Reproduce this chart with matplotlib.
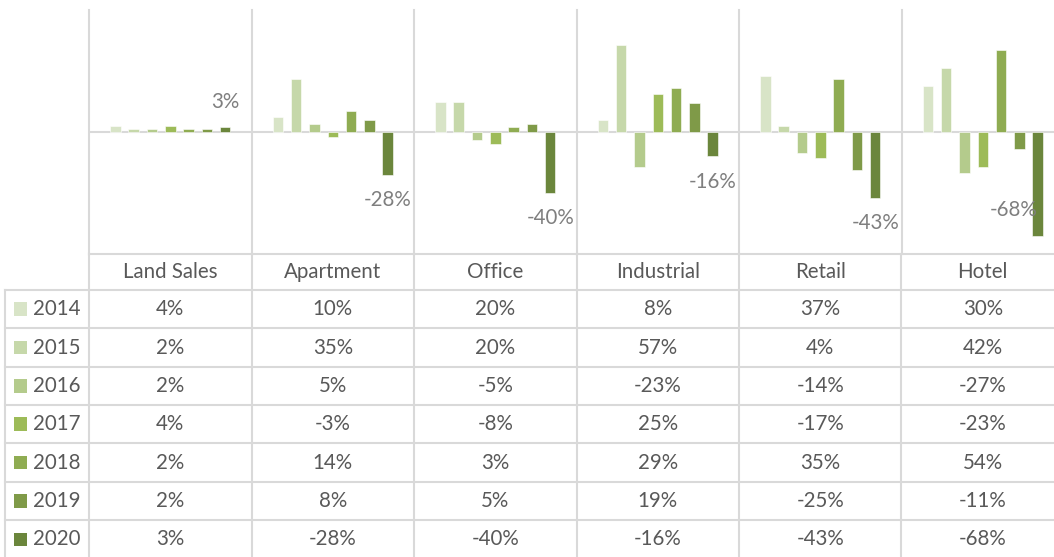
import matplotlib.pyplot as plt
from matplotlib.patches import Rectangle

categories = ["Land Sales", "Apartment", "Office", "Industrial", "Retail", "Hotel"]
years = ["2014", "2015", "2016", "2017", "2018", "2019", "2020"]
values = {
    "2014": [4, 10, 20, 8, 37, 30],
    "2015": [2, 35, 20, 57, 4, 42],
    "2016": [2, 5, -5, -23, -14, -27],
    "2017": [4, -3, -8, 25, -17, -23],
    "2018": [2, 14, 3, 29, 35, 54],
    "2019": [2, 8, 5, 19, -25, -11],
    "2020": [3, -28, -40, -16, -43, -68],
}
labelled_year = "2020"

colors = ["#d8e4c7", "#c6d8aa", "#b4cb8c", "#9dbb58", "#8fac52", "#7f9a48", "#6b863c"]
grid_color = "#d9d9d9"
text_color = "#595959"
label_color = "#7f7f7f"
font = ["Lato", "DejaVu Sans"]
fsize = 14.8

W, H = 1054, 557
CAT_PX = 162.5


def px_box(left, top, right, bottom):
    return [left / W, 1 - bottom / H, (right - left) / W, (bottom - top) / H]


def main() -> None:
    plt.rcParams["font.family"] = font
    fig = plt.figure(figsize=(W / 100, H / 100), dpi=100)

    # chart area
    ax = fig.add_axes(px_box(89, 10, 89 + 6 * CAT_PX, 254))
    ax.set_xlim(-0.5, 5.5)
    ax.set_ylim(-80, 80)
    ax.axis("off")
    for k in range(6):
        ax.plot([k - 0.5, k - 0.5], [-80, 80], color=grid_color, lw=1.5,
                clip_on=False, zorder=0)
    ax.axhline(0, color=grid_color, lw=1.5, zorder=1)

    step = 18.3 / CAT_PX
    width = 10.5 / CAT_PX
    n = len(years)
    for i, (year, color) in enumerate(zip(years, colors)):
        xs = [c + (i - (n - 1) / 2) * step for c in range(len(categories))]
        ax.bar(xs, values[year], width=width, color=color,
               edgecolor="white", linewidth=0.4, zorder=2)
        if year == labelled_year:
            for x, v in zip(xs, values[year]):
                sign = 1 if v >= 0 else -1
                y = v + sign * 16.5
                if abs(y) > 72:
                    y = v - sign * 17
                x = min(x, 5.5 - 0.31)
                ax.text(x, y, f"{v}%", ha="center", va="center",
                        color=label_color, fontsize=fsize, zorder=3)

    # data table
    left_px = 5
    x0 = -0.5 - (89 - left_px) / CAT_PX
    head_h = 36 / 38.35
    tab = fig.add_axes(px_box(left_px, 254, 89 + 6 * CAT_PX, 254 + 38.35 * (head_h + n)))
    tab.set_xlim(x0, 5.5)
    tab.set_ylim(head_h + n, 0)
    tab.axis("off")

    lw = 1.5
    tab.plot([-0.5, 5.5], [0, 0], color=grid_color, lw=lw, clip_on=False)
    for r in range(n + 1):
        tab.plot([x0, 5.5], [head_h + r, head_h + r], color=grid_color, lw=lw,
                 clip_on=False)
    tab.plot([x0, x0], [head_h, head_h + n], color=grid_color, lw=lw, clip_on=False)
    for k in range(6):
        tab.plot([k - 0.5, k - 0.5], [0, head_h + n], color=grid_color, lw=lw,
                 clip_on=False)

    for c, name in enumerate(categories):
        tab.text(c, head_h / 2, name, ha="center", va="center",
                 color=text_color, fontsize=fsize)

    sq_w = 13.5 / CAT_PX
    sq_h = 13.5 / 38.35
    for r, (year, color) in enumerate(zip(years, colors)):
        yc = head_h + r + 0.5
        tab.add_patch(Rectangle((x0 + 9 / CAT_PX, yc - sq_h / 2), sq_w, sq_h,
                                facecolor=color, edgecolor="none"))
        tab.text(x0 + 28 / CAT_PX, yc, year, ha="left", va="center",
                 color=text_color, fontsize=fsize)
        for c, v in enumerate(values[year]):
            tab.text(c, yc, f"{v}%", ha="center", va="center",
                     color=text_color, fontsize=fsize)

    fig.savefig("out.png", dpi=100)


if __name__ == "__main__":
    main()
